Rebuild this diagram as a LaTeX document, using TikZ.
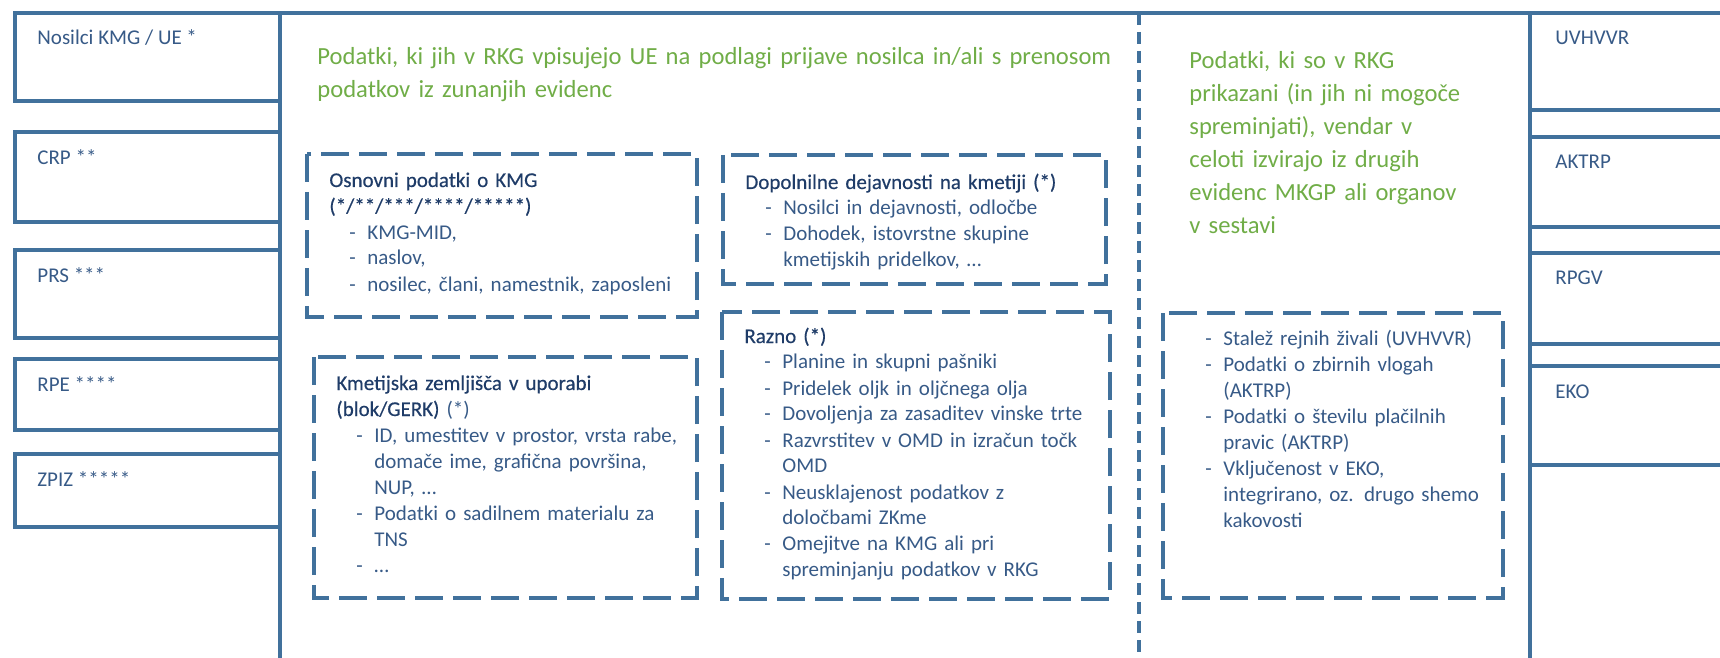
\documentclass[tikz,border=0pt]{standalone}
\usepackage{fontspec}
\setmainfont{Carlito}
\newfontface\hdfont{Carlito}[FakeBold=0.4]
\usepackage{xcolor}
\definecolor{framecol}{RGB}{65,113,156}
\definecolor{headcol}{RGB}{31,60,104}
\definecolor{itemcol}{RGB}{55,90,135}
\definecolor{titlecol}{RGB}{112,173,71}
\newcommand{\itm}{\hspace*{10pt}\makebox[9pt][l]{-}}
\newcommand{\cnt}{\hspace*{19pt}}
\newcommand{\hd}[1]{\textcolor{headcol}{\hdfont #1}}
\tikzset{
  srcbox/.style={draw=framecol, line width=1.7pt},
  dbox/.style={draw=framecol, line width=1.7pt, dash pattern=on 14pt off 5pt},
  divider/.style={draw=framecol, line width=1.6pt, dash pattern=on 6pt off 3.5pt},
  srclabel/.style={anchor=base west, inner sep=0pt, text=itemcol, font=\fontsize{10.5}{13}\selectfont},
  boxtext/.style={anchor=base west, inner sep=0pt, text=itemcol, text width=200pt, align=left, font=\fontsize{10.5}{13}\selectfont},
  greentitle/.style={anchor=base west, inner sep=0pt, text=titlecol, text width=420pt, align=left, font=\fontsize{12.3}{16.5}\selectfont}
}
\begin{document}
\begin{tikzpicture}[x=0.5pt, y=-0.5pt]
		\useasboundingbox (0,0) rectangle (1720,658);
		\clip (0,0) rectangle (1720,658);
		% evidence on the left
		\draw[srcbox] (15,13) rectangle (280,101);
		\node[srclabel] (nosilci) at (37,45) {Nosilci KMG / UE *};
		\draw[srcbox] (15,132) rectangle (280,222);
		\node[srclabel] (crp) at (37,164) {CRP **};
		\draw[srcbox] (15,250) rectangle (280,338);
		\node[srclabel] (prs) at (37,282) {PRS ***};
		\draw[srcbox] (15,359) rectangle (280,430);
		\node[srclabel] (rpe) at (37,391) {RPE ****};
		\draw[srcbox] (15,454) rectangle (280,527);
		\node[srclabel] (zpiz) at (37,486) {ZPIZ *****};
		% evidence on the right
		\draw[srcbox] (1530,13) rectangle (1750,110);
		\node[srclabel] (uvhvvr) at (1555,45) {UVHVVR};
		\draw[srcbox] (1530,137) rectangle (1750,227);
		\node[srclabel] (aktrp) at (1555,169) {AKTRP};
		\draw[srcbox] (1530,253) rectangle (1750,344);
		\node[srclabel] (rpgv) at (1555,285) {RPGV};
		\draw[srcbox] (1530,366) rectangle (1750,465);
		\node[srclabel] (eko) at (1555,398) {EKO};
		% RKG frame
		\draw[srcbox] (280,658) -- (280,13) -- (1530,13) -- (1530,658);
		\draw[divider] (1139,13) -- (1139,658);
		\node[greentitle] (naslovL) at (317,65)
		{Podatki, ki jih v RKG vpisujejo UE na podlagi prijave nosilca in/ali s prenosom\\
		podatkov iz zunanjih evidenc};
		\node[greentitle] (naslovR) at (1189,69)
		{Podatki, ki so v RKG\\
		prikazani (in jih ni mogoče\\
		spreminjati), vendar v\\
		celoti izvirajo iz drugih\\
		evidenc MKGP ali organov\\
		v sestavi};
		% groups of data
		\draw[dbox] (307,154) rectangle (697,317);
		\node[boxtext] (osnovni) at (329,187)
		{\hd{Osnovni podatki o KMG}\\
		\hd{(*/**/***/****/*****)}\\
		\itm KMG-MID,\\
		\itm naslov,\\
		\itm nosilec, člani, namestnik, zaposleni};
		\draw[dbox] (723,155) rectangle (1106,284);
		\node[boxtext] (dopolnilne) at (745,189)
		{\hd{Dopolnilne dejavnosti na kmetiji (*)}\\
		\itm Nosilci in dejavnosti, odločbe\\
		\itm Dohodek, istovrstne skupine\\
		\cnt kmetijskih pridelkov, …};
		\draw[dbox] (314,357) rectangle (697,598);
		\node[boxtext] (zemljisca) at (336,390)
		{\hd{Kmetijska zemljišča v uporabi}\\
		\hd{(blok/GERK)} (*)\\
		\itm ID, umestitev v prostor, vrsta rabe,\\
		\cnt domače ime, grafična površina,\\
		\cnt NUP, …\\
		\itm Podatki o sadilnem materialu za\\
		\cnt TNS\\
		\itm …};
		\draw[dbox] (722,312) rectangle (1110,599);
		\node[boxtext] (razno) at (744,343)
		{\hd{Razno (*)}\\
		\itm Planine in skupni pašniki\\
		\itm Pridelek oljk in oljčnega olja\\
		\itm Dovoljenja za zasaditev vinske trte\\
		\itm Razvrstitev v OMD in izračun točk\\
		\cnt OMD\\
		\itm Neusklajenost podatkov z\\
		\cnt določbami ZKme\\
		\itm Omejitve na KMG ali pri\\
		\cnt spreminjanju podatkov v RKG};
		\draw[dbox] (1163,313) rectangle (1503,598);
		\node[boxtext] (stalez) at (1185,345)
		{\itm Stalež rejnih živali (UVHVVR)\\
		\itm Podatki o zbirnih vlogah\\
		\cnt (AKTRP)\\
		\itm Podatki o številu plačilnih\\
		\cnt pravic (AKTRP)\\
		\itm Vključenost v EKO,\\
		\cnt integrirano, oz. drugo shemo\\
		\cnt kakovosti};
\end{tikzpicture}
\end{document}
